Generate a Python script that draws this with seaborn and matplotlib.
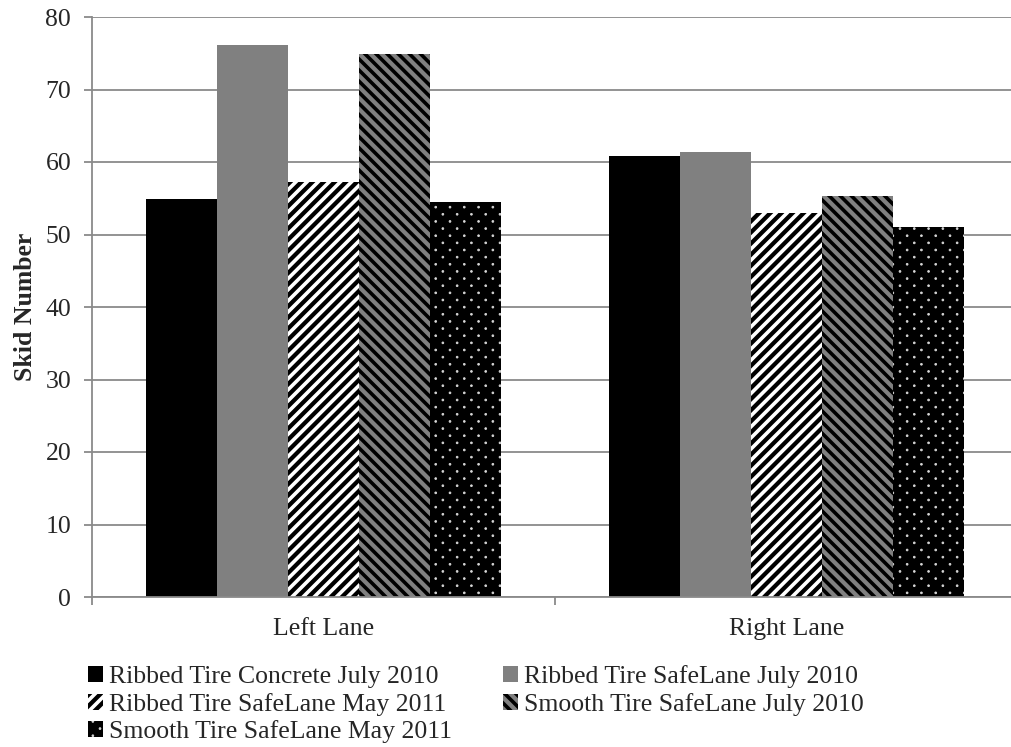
import matplotlib
matplotlib.use("Agg")
import matplotlib.pyplot as plt
import matplotlib.hatch as mhatch
from matplotlib.path import Path
import numpy as np
import seaborn as sns
import pandas as pd

lanes = ["Left Lane", "Right Lane"]
series = [
    "Ribbed Tire Concrete July 2010",
    "Ribbed Tire SafeLane July 2010",
    "Ribbed Tire SafeLane May 2011",
    "Smooth Tire SafeLane July 2010",
    "Smooth Tire SafeLane May 2011",
]
left_lane = [54.9, 76.1, 57.2, 74.9, 54.5]
right_lane = [60.8, 61.4, 53.0, 55.3, 51.1]
y_ticks = [0, 10, 20, 30, 40, 50, 60, 70, 80]


# Finer stripe and dot textures than matplotlib's defaults.
class DiagonalUp(mhatch.NorthEastHatch):
    def __init__(self, hatch, density):
        self.num_lines = int(hatch.count("/") * 18)
        self.num_vertices = (self.num_lines + 1) * 2 if self.num_lines else 0


class DiagonalDown(mhatch.SouthEastHatch):
    def __init__(self, hatch, density):
        self.num_lines = int(hatch.count("\\") * 18)
        self.num_vertices = (self.num_lines + 1) * 2 if self.num_lines else 0


class StaggeredDots(mhatch.HatchPatternBase):
    filled = True
    radius = 0.009

    def __init__(self, hatch, density):
        n = hatch.count(".")
        self.rows = 14 * n
        self.cols = 7 * n
        circle = Path.unit_circle()
        self.shape_vertices = circle.vertices
        self.shape_codes = circle.codes
        if n == 0:
            self.num_vertices = 0
        else:
            n_even = self.rows // 2 + 1
            n_odd = self.rows // 2
            shapes = n_even * (self.cols + 1) + n_odd * self.cols
            self.num_vertices = shapes * len(self.shape_vertices)

    def set_vertices_and_codes(self, vertices, codes):
        sv = self.shape_vertices * self.radius
        vparts, cparts = [], []
        for row in range(self.rows + 1):
            y = row / self.rows
            if row % 2 == 0:
                xs = np.linspace(0, 1, self.cols + 1)
            else:
                xs = np.linspace(0.5 / self.cols, 1 - 0.5 / self.cols, self.cols)
            for x in xs:
                vparts.append(sv + [x, y])
                cparts.append(self.shape_codes)
        np.concatenate(vparts, out=vertices)
        np.concatenate(cparts, out=codes)


mhatch._hatch_types[:] = [
    DiagonalUp if t is mhatch.NorthEastHatch else
    DiagonalDown if t is mhatch.SouthEastHatch else
    StaggeredDots if t is mhatch.SmallFilledCircles else t
    for t in mhatch._hatch_types
]

df = pd.DataFrame({
    "Lane": [lanes[0]] * len(series) + [lanes[1]] * len(series),
    "Series": series * 2,
    "Skid Number": left_lane + right_lane,
})

sns.set_theme(style="white")
plt.rcParams["font.family"] = ["Liberation Serif", "DejaVu Serif"]
plt.rcParams["hatch.linewidth"] = 2.6

FS = 18.5
GRID = "#8a8a8a"

fig = plt.figure(figsize=(10.12, 7.47), dpi=100)
ax = fig.add_axes([92 / 1012, 150 / 747, 926 / 1012, 580 / 747])

sns.barplot(data=df, x="Lane", y="Skid Number", hue="Series", hue_order=series,
            order=lanes, width=0.767, legend=False, ax=ax, saturation=1)

# face colour, hatch colour, hatch pattern, hatch line width
styles = [
    ("#000000", "#000000", None, None),
    ("#808080", "#808080", None, None),
    ("#000000", "#ffffff", "/", 2.6),
    ("#808080", "#000000", "\\", 2.6),
    ("#000000", "#d8d8d8", ".", 0.6),
]


def apply_style(patch, style):
    fc, hc, hatch, hlw = style
    patch.set_facecolor(fc)
    patch.set_edgecolor(hc)
    patch.set_linewidth(0)
    if hatch:
        patch.set_hatch(hatch)
        if hasattr(patch, "set_hatch_linewidth"):
            patch.set_hatch_linewidth(hlw)


for cont, style in zip(ax.containers, styles):
    for p in cont.patches:
        apply_style(p, style)

ax.set_ylim(0, 80)
ax.set_xlim(-0.5, 1.5)
ax.set_yticks(y_ticks)
ax.set_yticklabels([str(v) for v in y_ticks], fontsize=FS)
ax.yaxis.grid(True, color=GRID, linewidth=1.3)
ax.set_axisbelow(True)

ax.set_xlabel("")
ax.set_ylabel("Skid Number", fontsize=FS, fontweight="bold")
ax.yaxis.set_label_coords(-0.0595, 0.5)
ax.tick_params(axis="x", which="major", length=0, labelsize=FS, pad=15)
ax.set_xticks([-0.5, 0.5, 1.5], minor=True)
ax.tick_params(axis="x", which="minor", length=6, width=1.3, color=GRID, direction="out")
ax.tick_params(axis="y", length=6, width=1.3, color=GRID, direction="out", pad=9)
ax.xaxis.set_ticks_position("bottom")
ax.yaxis.set_ticks_position("left")

for side in ["top", "right"]:
    ax.spines[side].set_visible(False)
for side in ["left", "bottom"]:
    ax.spines[side].set_color(GRID)
    ax.spines[side].set_linewidth(1.3)

order = [0, 2, 4, 1, 3]
handles = [ax.containers[i] for i in order]
labels = [series[i] for i in order]
leg = fig.legend(handles, labels, loc="upper left",
                 bbox_to_anchor=(88 / 1012, 1 - 665 / 747),
                 ncol=2, frameon=False, fontsize=FS, handlelength=0.58, handleheight=0.58,
                 handletextpad=0.23, columnspacing=2.0, labelspacing=0.18, borderpad=0,
                 borderaxespad=0)
for h, i in zip(leg.legend_handles, order):
    apply_style(h, styles[i])

fig.savefig("out.png", dpi=100)
